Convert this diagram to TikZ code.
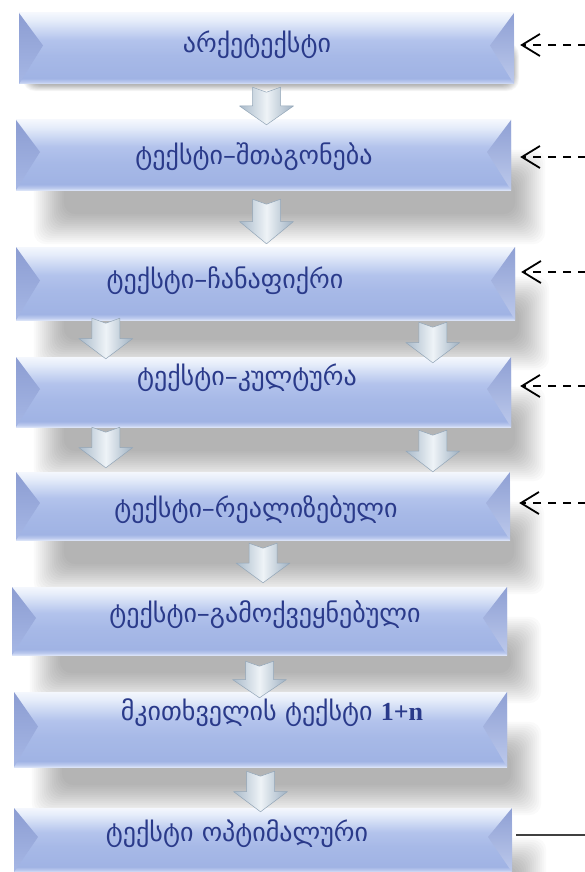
\documentclass[tikz,border=0pt]{standalone}
\usepackage{fontspec}
\setmainfont{DejaVu Sans}
\newfontfamily\latn{Liberation Serif}
\usetikzlibrary{arrows.meta,calc}
\pgfdeclarelayer{bg}
\pgfsetlayers{bg,main}
\definecolor{txtblue}{HTML}{2A3A8A}
\definecolor{bvA}{HTML}{D9E2F7}
\definecolor{bvB}{HTML}{BCCAEE}
\definecolor{bvC}{HTML}{A0B3E4}
\definecolor{bvD}{HTML}{A7B9E7}
\definecolor{bvE}{HTML}{B3C3EC}
\definecolor{bvF}{HTML}{CCD8F3}
\definecolor{bvG}{HTML}{E6EDFA}
\definecolor{bvH}{HTML}{F4F7FD}
\definecolor{bevdark}{HTML}{8C9DD2}
\definecolor{bevmid}{HTML}{A6B7E5}
\definecolor{arrL}{HTML}{A9BACA}
\definecolor{arrM}{HTML}{EEF3F7}
\definecolor{arrR}{HTML}{9FB1C2}
\definecolor{arrE}{HTML}{93A6B8}
\definecolor{lineg}{HTML}{404040}
\pgfdeclareverticalshading{bevmain}{100bp}{color(0bp)=(bvA); color(25bp)=(bvA); color(26.5bp)=(bvB); color(29bp)=(bvC); color(45bp)=(bvD); color(56bp)=(bvE); color(63bp)=(bvF); color(70bp)=(bvG); color(75bp)=(bvH); color(100bp)=(bvH)}
\tikzset{
  bevelbox/.style={rectangle, inner sep=0pt, shading=bevmain,
    path picture={
      \shade[top color=bevdark, bottom color=bevmid]
        (path picture bounding box.north west) -- ([xshift=24pt,yshift=3pt]path picture bounding box.west) -- (path picture bounding box.south west) -- cycle;
      \shade[top color=bevdark!90!bevmid, bottom color=bevmid!75!white]
        (path picture bounding box.north east) -- ([xshift=-24pt,yshift=3pt]path picture bounding box.east) -- (path picture bounding box.south east) -- cycle;
    }},
  shadowlayer/.style={black, opacity=0.019, rounded corners=12pt},
  boxtext/.style={text=txtblue, font=\fontsize{26}{30}\selectfont, inner sep=0pt},
  dasharr/.style={-{Straight Barb[length=18pt,width=22pt,line width=1.8pt]}, line width=2pt, dash pattern=on 8pt off 7pt, black},
  solidline/.style={draw=lineg, line width=1.2pt},
  blkarrow/.style={left color=arrL, right color=arrR, middle color=arrM, draw=arrE, line width=0.5pt, line join=round},
}
% #1 node, #2 left inset, #3 right extra, #4 bottom extra, #5 blur width
\newcommand\softshadow[5]{%
  \begin{pgfonlayer}{bg}
  \foreach \i in {0,...,15} {
    \fill[shadowlayer] ($(#1.north west)+({#2+\i*#5/16},{30+\i*#5/16})$) rectangle ($(#1.south east)+({#3-\i*#5/16},{#4-\i*#5/16})$);
  }
  \end{pgfonlayer}}
\newcommand\blkarr[2]{%
  \path[blkarrow] let \p1=#1, \p2=#2, \n1={(\y1-\y2)*0.5} in
   (\x1-14pt,\y1) -- (\x1,\y1-5pt) -- (\x1+14pt,\y1) -- (\x1+14pt,{\y1-\n1*1pt}) -- (\x1+27pt,{\y1-\n1*1pt}) -- (\x1,\y2) -- (\x1-27pt,{\y1-\n1*1pt}) -- (\x1-14pt,{\y1-\n1*1pt}) -- cycle;}
\begin{document}
\begin{tikzpicture}[x=1pt,y=-1pt]
\begin{pgfonlayer}{bg}
\fill[white] (0,0) rectangle (585,872);
\end{pgfonlayer}
\useasboundingbox (0,0) rectangle (585,872);
% boxes
\node[bevelbox, minimum width=495pt, minimum height=71pt] (b1) at (266.5,48.5) {};
\node[bevelbox, minimum width=495pt, minimum height=70pt] (b2) at (263.5,155) {};
\node[bevelbox, minimum width=499pt, minimum height=73pt] (b3) at (265.5,283.5) {};
\node[bevelbox, minimum width=495pt, minimum height=70pt] (b4) at (263.5,392) {};
\node[bevelbox, minimum width=494pt, minimum height=68pt] (b5) at (263,506) {};
\node[bevelbox, minimum width=495pt, minimum height=68pt] (b6) at (259.5,621) {};
\node[bevelbox, minimum width=493pt, minimum height=75pt] (b7) at (260.5,729.5) {};
\node[bevelbox, minimum width=498pt, minimum height=64pt] (b8) at (263,840) {};
% shadows
\softshadow{b1}{4}{5}{7}{7}
\softshadow{b2}{18}{34}{54}{32}
\softshadow{b3}{18}{34}{50}{32}
\softshadow{b4}{18}{34}{54}{32}
\softshadow{b5}{18}{34}{54}{32}
\softshadow{b6}{18}{34}{48}{32}
\softshadow{b7}{18}{34}{48}{32}
\softshadow{b8}{18}{34}{54}{32}
% texts
\node[boxtext] (t1) at (257,45) {არქეტექსტი};
\node[boxtext] (t2) at (254,157) {ტექსტი–შთაგონება};
\node[boxtext] (t3) at (225,281) {ტექსტი–ჩანაფიქრი};
\node[boxtext] (t4) at (247,378) {ტექსტი–კულტურა};
\node[boxtext] (t5) at (256,510) {ტექსტი–რეალიზებული};
\node[boxtext] (t6) at (265,615) {ტექსტი–გამოქვეყნებული};
\node[boxtext] (t7) at (272,713) {მკითხველის ტექსტი {\latn\bfseries 1+n}};
\node[boxtext] (t8) at (237,834) {ტექსტი ოპტიმალური};
% block arrows
\blkarr{($(b1.south)+(0,3)$)}{($(b2.north)+(0,5)$)}
\blkarr{($(b2.south)+(3,9)$)}{($(b3.north)+(3,-3)$)}
\blkarr{($(b3.south west)+(90,-2)$)}{($(b4.north west)+(90,2)$)}
\blkarr{($(b3.south west)+(417,2)$)}{($(b4.north west)+(417,6)$)}
\blkarr{($(b4.south west)+(90,0)$)}{($(b5.north west)+(90,-4)$)}
\blkarr{($(b4.south west)+(417,3)$)}{($(b5.north west)+(417,0)$)}
\blkarr{($(b5.south)+(0,3)$)}{($(b6.north)+(0,-4)$)}
\blkarr{($(b6.south)+(0,6)$)}{($(b7.north)+(0,6)$)}
\blkarr{($(b7.south)+(0,4)$)}{($(b8.north)+(0,4)$)}
% side connectors
\coordinate (r1) at (586,45);
\coordinate (r2) at (586,157);
\coordinate (r3) at (586,272);
\coordinate (r4) at (586,386);
\coordinate (r5) at (586,503);
\coordinate (r8) at (586,835);
\draw[dasharr] (r1) -- ($(r1 -| b1.east)+(6,0)$);
\draw[dasharr] (r2) -- ($(r2 -| b2.east)+(9,0)$);
\draw[dasharr] (r3) -- ($(r3 -| b3.east)+(6,0)$);
\draw[dasharr] (r4) -- ($(r4 -| b4.east)+(9,0)$);
\draw[dasharr] (r5) -- ($(r5 -| b5.east)+(9,0)$);
\draw[solidline] ($(r8 -| b8.east)+(4,0)$) -- (r8);
\end{tikzpicture}
\end{document}
